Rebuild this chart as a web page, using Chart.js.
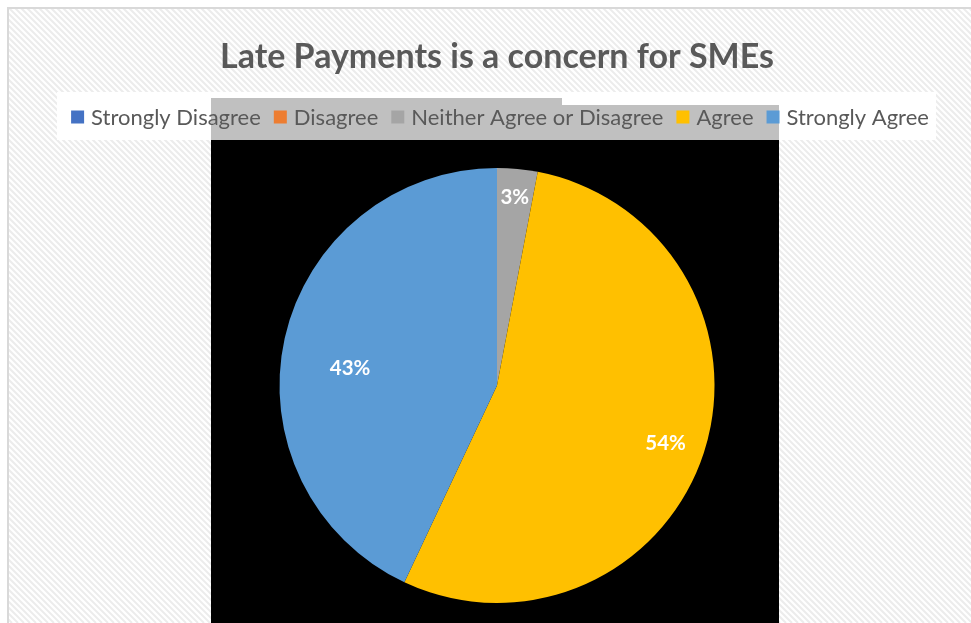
<!DOCTYPE html>
<html>
<head>
<meta charset="utf-8">
<script src="https://cdn.jsdelivr.net/npm/chart.js@4.4.1/dist/chart.umd.min.js"></script>
<style>
  html, body { margin: 0; padding: 0; background: #ffffff; }
  #wrap { position: relative; width: 971px; height: 623px; }
</style>
</head>
<body>
<div id="wrap"><canvas id="chart" width="971" height="623"></canvas></div>
<script>
// Survey responses to "Late Payments is a concern for SMEs" (percent of respondents)
const categories = ['Strongly Disagree', 'Disagree', 'Neither Agree or Disagree', 'Agree', 'Strongly Agree'];
const responseShares = [0, 0, 3, 54, 43];
const sliceColors = ['#4472C4', '#ED7D31', '#A5A5A5', '#FFC000', '#5B9BD5'];
const chartTitle = 'Late Payments is a concern for SMEs';

const FONT = 'Lato, "Open Sans", sans-serif';
const TEXT_GREY = '#595959';

// Frame: hatched panel with a thin border, legend strip and dark plot panel
const framePlugin = {
  id: 'frame',
  beforeDraw(chart) {
    const ctx = chart.ctx;
    const W = chart.width, H = chart.height;
    ctx.save();
    ctx.fillStyle = '#ffffff';
    ctx.fillRect(0, 0, W, H);

    // diagonal hatching inside the chart frame
    ctx.save();
    ctx.beginPath();
    ctx.rect(9, 9, W, H);
    ctx.clip();
    ctx.strokeStyle = '#ececec';
    ctx.lineWidth = 2;
    for (let k = -H; k < W + H; k += 6) {
      ctx.beginPath();
      ctx.moveTo(k, 0);
      ctx.lineTo(k + H, H);
      ctx.stroke();
    }
    ctx.restore();

    // frame border
    ctx.strokeStyle = '#d9d9d9';
    ctx.lineWidth = 2;
    ctx.beginPath();
    ctx.moveTo(8, H + 2);
    ctx.lineTo(8, 8);
    ctx.lineTo(W + 2, 8);
    ctx.stroke();

    // legend strip
    ctx.fillStyle = '#ffffff';
    ctx.fillRect(57, 92, 879, 48);
    ctx.fillStyle = '#c0c0c0';
    ctx.fillRect(211, 98, 351, 42);
    ctx.fillRect(562, 105, 217, 35);

    // plot panel
    ctx.fillStyle = '#000000';
    ctx.fillRect(211, 140, 568, H - 140);
    ctx.restore();
  }
};

// Legend row drawn from the chart's own labels and slice colours
const legendRowPlugin = {
  id: 'legendRow',
  afterDraw(chart, args, opts) {
    const ctx = chart.ctx;
    const labels = chart.data.labels;
    const colors = chart.data.datasets[0].backgroundColor;
    ctx.save();
    ctx.font = opts.fontSize + 'px ' + FONT;
    ctx.textBaseline = 'middle';
    const widths = labels.map(l => ctx.measureText(l).width);
    const itemW = widths.map(w => opts.box + opts.gap + w);
    const total = itemW.reduce((a, b) => a + b, 0) + opts.spacing * (labels.length - 1);
    let x = opts.centerX - total / 2;
    const y = opts.y;
    labels.forEach((l, i) => {
      ctx.fillStyle = colors[i];
      ctx.fillRect(x, y - opts.box / 2, opts.box, opts.box);
      ctx.fillStyle = TEXT_GREY;
      ctx.fillText(l, x + opts.box + opts.gap, y + 1);
      x += itemW[i] + opts.spacing;
    });
    ctx.restore();
  }
};

// Percentage labels inside the slices
const sliceLabelPlugin = {
  id: 'sliceLabels',
  afterDatasetsDraw(chart, args, opts) {
    const ctx = chart.ctx;
    const meta = chart.getDatasetMeta(0);
    const values = chart.data.datasets[0].data;
    const total = values.reduce((a, b) => a + b, 0);
    ctx.save();
    ctx.font = 'bold ' + opts.fontSize + 'px ' + FONT;
    ctx.fillStyle = '#ffffff';
    ctx.textAlign = 'center';
    ctx.textBaseline = 'middle';
    meta.data.forEach((arc, i) => {
      if (!values[i]) return;
      const p = arc.getProps(['x', 'y', 'startAngle', 'endAngle', 'outerRadius'], true);
      const mid = (p.startAngle + p.endAngle) / 2 + opts.turn[i] * Math.PI / 180;
      const r = p.outerRadius * opts.radial[i];
      const pct = Math.round(values[i] / total * 100) + '%';
      ctx.fillText(pct, p.x + Math.cos(mid) * r, p.y + Math.sin(mid) * r);
    });
    ctx.restore();
  }
};

new Chart(document.getElementById('chart'), {
  type: 'pie',
  data: {
    labels: categories,
    datasets: [{
      data: responseShares,
      backgroundColor: sliceColors,
      borderWidth: 0
    }]
  },
  plugins: [framePlugin, legendRowPlugin, sliceLabelPlugin],
  options: {
    responsive: false,
    animation: false,
    layout: { padding: { top: 0, bottom: 20, left: 100, right: 77 } },
    plugins: {
      title: {
        display: true,
        text: chartTitle,
        color: TEXT_GREY,
        font: { family: FONT, size: 34, weight: 'bold', lineHeight: 1.2 },
        padding: { top: 37, bottom: 90.2 }
      },
      legend: { display: false },
      tooltip: { enabled: false },
      legendRow: { fontSize: 22, box: 13, gap: 7, spacing: 13, centerX: 500, y: 117 },
      sliceLabels: { fontSize: 20.5, radial: [0, 0, 0.87, 0.82, 0.68], turn: [0, 0, 0, 1, -6] }
    }
  }
});
</script>
</body>
</html>
